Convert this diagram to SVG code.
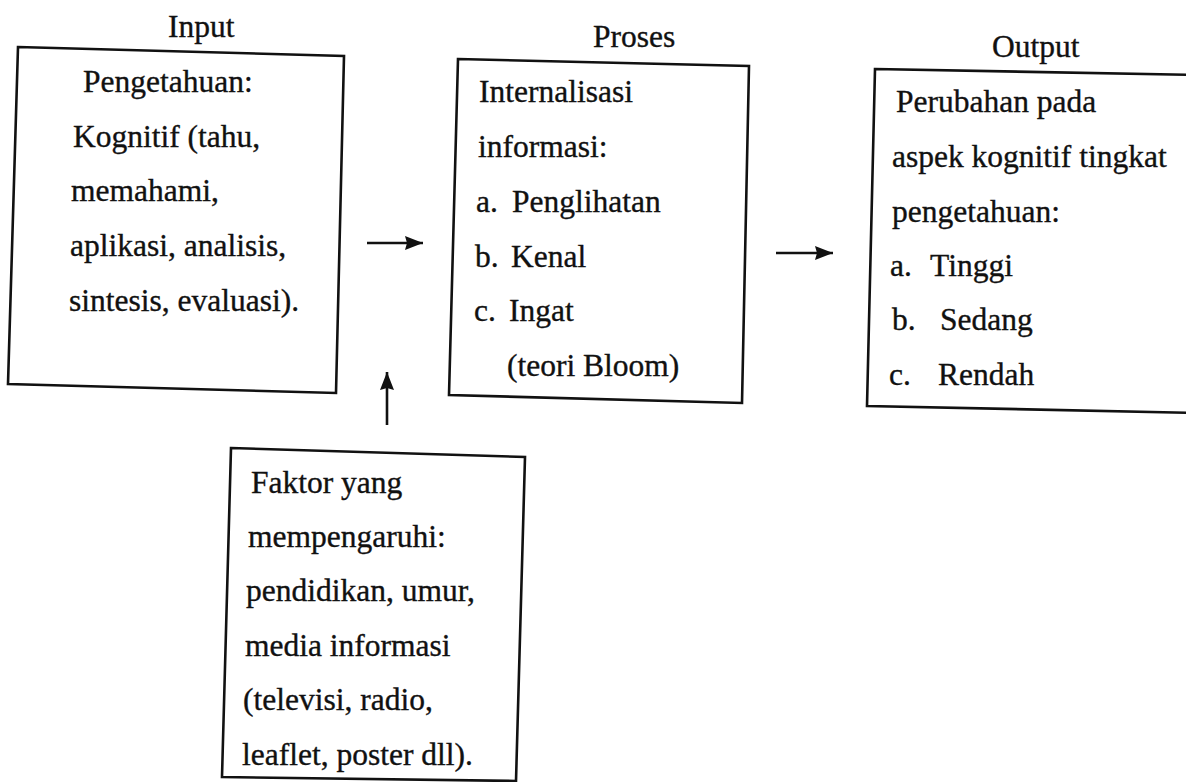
<svg xmlns="http://www.w3.org/2000/svg" width="1186" height="782" viewBox="0 0 1186 782">
<style>
  .box { fill: #ffffff; stroke: #111111; stroke-width: 2.6; stroke-linejoin: miter; }
  .t { font-family: "Liberation Serif", "Times New Roman", serif; font-size: 31.5px; fill: #111111; stroke: #111111; stroke-width: 0.35; }
  .conn { stroke: #111111; stroke-width: 2.6; fill: none; }
</style>
<defs>
  <marker id="arr" viewBox="0 0 18 14" refX="18" refY="7" markerWidth="18" markerHeight="14" orient="auto" markerUnits="userSpaceOnUse">
    <path d="M0,0 L18,7 L0,14 L2,7 z" fill="#111111"/>
  </marker>
</defs>
<rect x="0" y="0" width="1186" height="782" fill="#ffffff"/>

<g id="input">
  <text class="t" x="168" y="37">Input</text>
  <polygon class="box" points="18,47 344,56 336,393 8,384"/>
  <text class="t" x="83" y="92">Pengetahuan:</text>
  <text class="t" x="73" y="147">Kognitif (tahu,</text>
  <text class="t" x="71" y="201">memahami,</text>
  <text class="t" x="70" y="256">aplikasi, analisis,</text>
  <text class="t" x="69" y="311">sintesis, evaluasi).</text>
</g>

<g id="proses">
  <text class="t" x="593" y="47">Proses</text>
  <polygon class="box" points="458,59 749,66 742,403 449,395"/>
  <text class="t" x="479" y="102">Internalisasi</text>
  <text class="t" x="478" y="157">informasi:</text>
  <text class="t" x="476" y="212">a.</text>
  <text class="t" x="512" y="212">Penglihatan</text>
  <text class="t" x="475" y="267">b.</text>
  <text class="t" x="511" y="267">Kenal</text>
  <text class="t" x="474" y="321">c.</text>
  <text class="t" x="509" y="321">Ingat</text>
  <text class="t" x="507" y="376">(teori Bloom)</text>
</g>

<g id="output">
  <text class="t" x="992" y="57">Output</text>
  <polygon class="box" points="875,69 1200,75 1200,413 867,406"/>
  <text class="t" x="896" y="112">Perubahan pada</text>
  <text class="t" x="892" y="167">aspek kognitif tingkat</text>
  <text class="t" x="892" y="222">pengetahuan:</text>
  <text class="t" x="890" y="276">a.</text>
  <text class="t" x="930" y="276">Tinggi</text>
  <text class="t" x="892" y="330">b.</text>
  <text class="t" x="940" y="330">Sedang</text>
  <text class="t" x="889" y="385">c.</text>
  <text class="t" x="938" y="385">Rendah</text>
</g>

<g id="faktor">
  <polygon class="box" points="231,448 525,457 516,781 222,777"/>
  <text class="t" x="251" y="493">Faktor yang</text>
  <text class="t" x="248" y="547">mempengaruhi:</text>
  <text class="t" x="246" y="601">pendidikan, umur,</text>
  <text class="t" x="245" y="656">media informasi</text>
  <text class="t" x="243" y="710">(televisi, radio,</text>
  <text class="t" x="242" y="765">leaflet, poster dll).</text>
</g>

<g id="connectors">
  <line class="conn" x1="367" y1="243" x2="423" y2="243" marker-end="url(#arr)"/>
  <line class="conn" x1="776" y1="253" x2="833" y2="253" marker-end="url(#arr)"/>
  <line class="conn" x1="387" y1="425" x2="387" y2="372" marker-end="url(#arr)"/>
</g>
</svg>
